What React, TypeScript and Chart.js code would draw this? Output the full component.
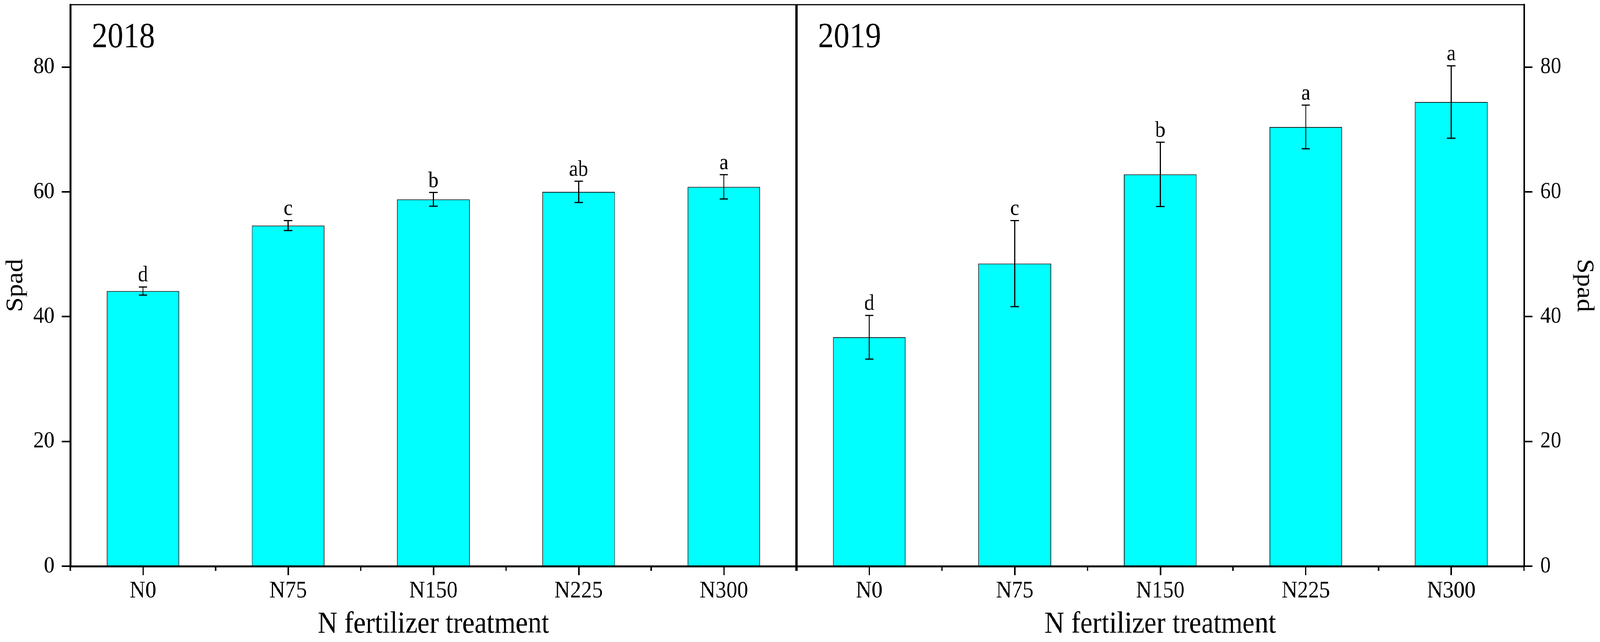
import React, { useRef, useEffect, useState } from "react";
import Chart from "chart.js/auto";

// values (SPAD, mean and SD per N rate)
const treatments = ["N0", "N75", "N150", "N225", "N300"];
const spad2018 = [44.1, 54.6, 58.8, 60.0, 60.8];
const sd2018 = [0.65, 0.8, 1.1, 1.7, 1.95];
const letters2018 = ["d", "c", "b", "ab", "a"];
const spad2019 = [36.7, 48.5, 62.8, 70.4, 74.4];
const sd2019 = [3.5, 6.9, 5.15, 3.5, 5.8];
const letters2019 = ["d", "c", "b", "a", "a"];
const yTicks = [0, 20, 40, 60, 80];
const yMax = 90;

const FONT = "'Liberation Serif', 'Times New Roman', serif";
const W = 4550;
const H = 1643;

interface PanelProps {
  year: string;
  values: number[];
  sd: number[];
  letters: string[];
  side: "left" | "right";
  left: number;
  width: number;
}

function Panel({ year, values, sd, letters, side, left, width }: PanelProps) {
  const canvasRef = useRef<HTMLCanvasElement>(null);

  useEffect(() => {
    if (!canvasRef.current) return;

    // error bars + significance letters
    const errorBars = {
      id: "errorBars",
      afterDatasetsDraw(chart: any) {
        const { ctx } = chart;
        const y = chart.scales.y;
        const meta = chart.getDatasetMeta(0);
        ctx.save();
        ctx.strokeStyle = "#000";
        ctx.lineWidth = 3;
        meta.data.forEach((bar: any, i: number) => {
          const hi = y.getPixelForValue(values[i] + sd[i]);
          const lo = y.getPixelForValue(values[i] - sd[i]);
          ctx.beginPath();
          ctx.moveTo(bar.x, hi);
          ctx.lineTo(bar.x, lo);
          ctx.moveTo(bar.x - 12, hi);
          ctx.lineTo(bar.x + 12, hi);
          ctx.moveTo(bar.x - 12, lo);
          ctx.lineTo(bar.x + 12, lo);
          ctx.stroke();
          ctx.fillStyle = "#000";
          ctx.font = `58px ${FONT}`;
          ctx.textAlign = "center";
          ctx.textBaseline = "alphabetic";
          ctx.fillText(letters[i], bar.x, hi - 14);
        });
        ctx.restore();
      },
    };

    // frame, minor ticks between categories, year label
    const frame = {
      id: "frame",
      afterDraw(chart: any) {
        const { ctx, chartArea } = chart;
        const x = chart.scales.x;
        ctx.save();
        ctx.strokeStyle = "#000";
        ctx.lineWidth = 3;
        ctx.beginPath();
        ctx.moveTo(chartArea.left, chartArea.top);
        ctx.lineTo(chartArea.right, chartArea.top);
        ctx.stroke();
        if (side === "right") {
          ctx.lineWidth = 6;
          ctx.beginPath();
          ctx.moveTo(chartArea.left, chartArea.top);
          ctx.lineTo(chartArea.left, chartArea.bottom + 12);
          ctx.stroke();
        }
        const half = (x.getPixelForTick(1) - x.getPixelForTick(0)) / 2;
        ctx.lineWidth = 4;
        ctx.beginPath();
        for (let i = 0; i <= treatments.length; i++) {
          const px = x.getPixelForTick(Math.min(i, treatments.length - 1)) + (i < treatments.length ? -half : half);
          ctx.moveTo(px, chartArea.bottom);
          ctx.lineTo(px, chartArea.bottom + 12);
        }
        ctx.stroke();
        ctx.fillStyle = "#000";
        ctx.font = `90px ${FONT}`;
        ctx.textAlign = "left";
        ctx.textBaseline = "alphabetic";
        ctx.fillText(year, chartArea.left + 61, 121);
        ctx.restore();
      },
    };

    const chart = new Chart(canvasRef.current, {
      type: "bar",
      data: {
        labels: treatments,
        datasets: [
          {
            data: values,
            backgroundColor: "#00FFFF",
            borderColor: "#1a1a1a",
            borderWidth: 2,
            barPercentage: 0.5,
            categoryPercentage: 1,
          },
        ],
      },
      options: {
        responsive: false,
        devicePixelRatio: 1,
        animation: false,
        layout: { padding: { left: side === "right" ? 3 : 0, right: 0, top: 12, bottom: 0 } },
        plugins: { legend: { display: false }, tooltip: { enabled: false } },
        scales: {
          x: {
            offset: true,
            afterFit: (s: any) => {
              s.height = 194;
              s.paddingLeft = 0;
              s.paddingRight = 0;
            },
            grid: { offset: false, drawOnChartArea: false, tickLength: 23, lineWidth: 4, color: "#000" },
            border: { display: true, width: 5, color: "#000" },
            ticks: { padding: 4, color: "#000", maxRotation: 0, autoSkip: false, font: { size: 62, family: FONT } },
            title: {
              display: true,
              text: "N fertilizer treatment",
              color: "#000",
              font: { size: 78, family: FONT, lineHeight: 1 },
              padding: { top: 0, bottom: 5 },
            },
          },
          y: {
            position: side,
            min: 0,
            max: yMax,
            afterBuildTicks: (s: any) => {
              s.ticks = yTicks.map((v) => ({ value: v }));
            },
            afterFit: (s: any) => {
              s.width = side === "left" ? 200 : 216;
              s.paddingTop = 0;
              s.paddingBottom = 0;
            },
            grid: { drawOnChartArea: false, tickLength: 24, lineWidth: 4, color: "#000" },
            border: { display: true, width: 5, color: "#000" },
            ticks: { padding: side === "left" ? 21 : 22, color: "#000", font: { size: 60, family: FONT } },
            title: {
              display: true,
              text: "Spad",
              color: "#000",
              font: { size: 68, family: FONT, lineHeight: 1 },
              padding: { top: 11, bottom: 0 },
            },
          },
        },
      },
      plugins: [errorBars, frame],
    });

    return () => chart.destroy();
  }, [year, values, sd, letters, side]);

  return (
    <canvas
      ref={canvasRef}
      width={width}
      height={H}
      style={{ position: "absolute", left, top: 0, width, height: H }}
    />
  );
}

export default function App() {
  const [view, setView] = useState({ w: window.innerWidth, h: window.innerHeight });

  useEffect(() => {
    const onResize = () => setView({ w: window.innerWidth, h: window.innerHeight });
    window.addEventListener("resize", onResize);
    return () => window.removeEventListener("resize", onResize);
  }, []);

  // the figure is laid out at 4550x1643 and scaled to whatever the viewport is
  const sx = view.w / W;
  const sy = view.h / H;

  return (
    <div style={{ position: "fixed", left: 0, top: 0, width: view.w, height: view.h, overflow: "hidden", background: "#fff" }}>
      <div
        style={{
          position: "absolute",
          left: 0,
          top: 0,
          width: W,
          height: H,
          transform: `scale(${sx}, ${sy})`,
          transformOrigin: "0 0",
        }}
      >
        <Panel year="2018" values={spad2018} sd={sd2018} letters={letters2018} side="left" left={0} width={2265} />
        <Panel year="2019" values={spad2019} sd={sd2019} letters={letters2019} side="right" left={2262} width={2288} />
      </div>
    </div>
  );
}
